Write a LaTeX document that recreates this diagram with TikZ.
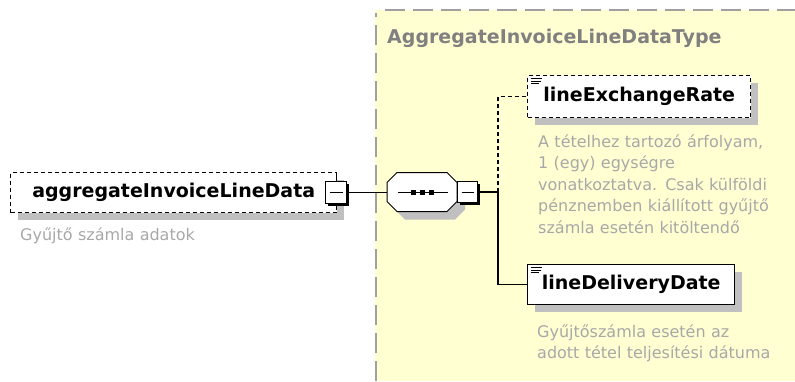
\documentclass[tikz,border=0pt]{standalone}
\usepackage{fontspec}
\setmainfont{DejaVu Sans}
\usetikzlibrary{positioning,shadows}

\definecolor{typebg}{HTML}{FFFFD2}
\definecolor{typeline}{HTML}{A0A0A0}
\definecolor{titlegray}{HTML}{808080}
\definecolor{descgray}{HTML}{A8A8A8}
\definecolor{shadowgray}{HTML}{C0C0C0}

\newcommand{\elemfont}{\fontsize{19}{22}\selectfont\bfseries}
\newcommand{\descfont}{\fontsize{16}{21.5}\selectfont}
% octagon outline of the sequence compositor, drawn from its centre
\newcommand{\seqoutline}{++(-25,-19.5) -- ++(50,0) -- ++(10,10) -- ++(0,19) -- ++(-10,10)
    -- ++(-50,0) -- ++(-10,-10) -- ++(0,-19) -- cycle}

\tikzset{
  elem/.style={draw, fill=white, line width=1.4pt, font=\elemfont, inner sep=0pt,
    minimum height=40pt,
    drop shadow={shadow xshift=7pt, shadow yshift=-7pt, fill=shadowgray, opacity=1}},
  optelem/.style={elem, dash pattern=on 4pt off 3pt},
  simple/.style={path picture={
    \foreach \k/\l in {0/11,1/10,2/8}
      \draw[solid, line width=0.9pt] ([xshift=3pt,yshift={-3pt-2.6pt*\k}]path picture bounding box.north west) -- ++(\l,0);}},
  collapse/.style={draw, fill=white, line width=1pt, minimum width=20pt, minimum height=21pt,
    inner sep=0pt,
    drop shadow={shadow xshift=2.5pt, shadow yshift=-2.5pt, fill=black, opacity=1},
    path picture={\draw[solid, line width=1pt] ([xshift=4pt]path picture bounding box.west)
      -- ([xshift=-4pt]path picture bounding box.east);}},
  seqbox/.style={minimum width=70pt, minimum height=39pt, inner sep=0pt},
  desc/.style={font=\descfont, text=descgray, anchor=base west, inner sep=0pt,
    text width=270pt, align=left},
  link/.style={line width=1.4pt}
}

\begin{document}
\begin{tikzpicture}[x=1pt, y=-1pt]
    \useasboundingbox (0,0) rectangle (795,381);

    % Complex type area
    \fill[typebg] (375,10) rectangle (795,381);
    \draw[typeline, line width=2pt, dash pattern=on 20pt off 8pt] (376,381) -- (376,13);
    \draw[typeline, line width=2pt, dash pattern=on 20pt off 8pt] (385,10) -- (795,10);
    \node[font=\elemfont, text=titlegray, anchor=base west, inner sep=0pt] (typename) at (387,43)
        {AggregateInvoiceLineDataType};

    % Root element
    \node[optelem, minimum width=326pt, anchor=north west] (agg) at (10,172) {aggregateInvoiceLineData};
    \node[collapse, minimum width=21pt, minimum height=22pt] (agg-m) at ([xshift=-1pt]agg.east) {};
    \draw[link] (agg-m.north) -- (agg-m.north |- agg.north);
    \node[desc] (agg-doc) at (20,240) {Gyűjtő számla adatok};

    % Sequence
    \node[seqbox] (seq) at (422,192) {};
    \fill[shadowgray] ([shift={(8pt,-8pt)}]seq.center) \seqoutline;
    \draw[fill=white, line width=1pt] (seq.center) \seqoutline;
    \draw[line width=1pt] ([xshift=11pt]seq.west) -- ([xshift=-9pt]seq.east);
    \foreach \dx in {-9,0,9}
        \fill ([xshift=\dx pt]seq.center) +(-2.5,-2.5) rectangle +(2.5,2.5);
    \node[collapse, anchor=west] (seq-m) at (seq.east) {};
    \draw[link] (agg-m.east) -- (agg-m.east -| seq.west);

    % Children
    \node[optelem, simple, minimum width=223pt, minimum height=42pt, anchor=north west] (rate) at (527,75) {lineExchangeRate};
    \node[desc] (rate-doc) at (538,147) {A tételhez tartozó árfolyam,\\ 1 (egy) egységre\\ vonatkoztatva. Csak külföldi\\ pénznemben kiállított gyűjtő\\ számla esetén kitöltendő};

    \node[elem, simple, minimum width=207pt, anchor=north west] (delivery) at (527,264) {lineDeliveryDate};
    \node[desc] (delivery-doc) at (537,337) {Gyűjtőszámla esetén az\\ adott tétel teljesítési dátuma};

    % Connectors
    \coordinate (fork) at (498,192);
    \draw[link] (seq-m.east) -- (fork);
    \draw[link, dash pattern=on 4pt off 3pt] (fork) |- (rate.west);
    \draw[link] (fork) |- (delivery.west);
\end{tikzpicture}
\end{document}
